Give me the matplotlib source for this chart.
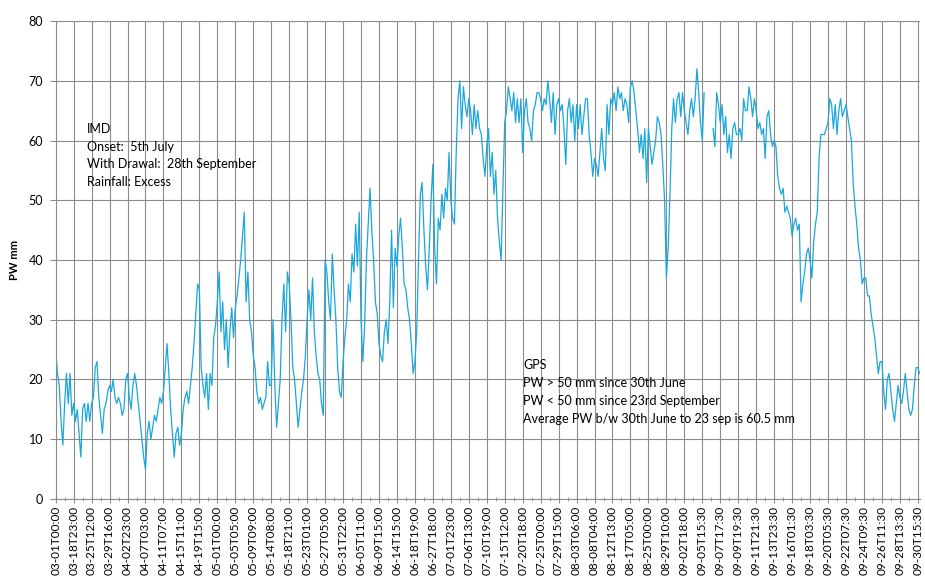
import numpy as np
import matplotlib.pyplot as plt
from matplotlib.ticker import MultipleLocator

plt.rcParams['font.family'] = ['Lato', 'DejaVu Sans']

# category labels, one every 100 samples
tick_labels = [
    '03-01T00:00', '03-18T23:00', '03-25T12:00', '03-29T16:00', '04-02T23:00',
    '04-07T03:00', '04-11T07:00', '04-15T11:00', '04-19T15:00', '05-01T00:00',
    '05-05T05:00', '05-09T09:00', '05-14T08:00', '05-18T21:00', '05-23T01:00',
    '05-27T05:00', '05-31T22:00', '06-05T11:00', '06-09T15:00', '06-14T15:00',
    '06-18T19:00', '06-27T18:00', '07-01T23:00', '07-06T13:00', '07-10T19:00',
    '07-15T12:00', '07-20T18:00', '07-25T00:00', '07-29T15:00', '08-03T06:00',
    '08-08T04:00', '08-12T13:00', '08-17T05:00', '08-25T00:00', '08-29T10:00',
    '09-02T18:00', '09-05T15:30', '09-07T17:30', '09-09T19:30', '09-11T21:30',
    '09-13T23:30', '09-16T01:30', '09-18T03:30', '09-20T05:30', '09-22T07:30',
    '09-24T09:30', '09-26T11:30', '09-28T13:30', '09-30T15:30',
]
samples_per_label = 100
step = 10  # PW every 10 samples

nan = np.nan
# one row per gap between two labels
pw_mm = [
    25, 21, 19, 13, 9, 16, 21, 16, 21, 14,
    16, 13, 15, 11, 7, 15, 16, 13, 16, 13,
    16, 17, 22, 23, 17, 14, 11, 15, 16, 18,
    19, 18, 20, 17, 16, 17, 16, 14, 15, 20,
    21, 17, 15, 19, 21, 19, 16, 13, 10, 7,
    5, 11, 13, 10, 12, 14, 13, 15, 17, 16,
    18, 22, 26, 21, 15, 11, 7, 11, 12, 9,
    11, 15, 17, 18, 16, 19, 22, 26, 31, 36,
    35, 22, 19, 17, 21, 15, 21, 19, 27, 29,
    33, 38, 28, 33, 25, 30, 22, 28, 32, 27,
    32, 34, 37, 40, 44, 48, 33, 38, 30, 28,
    24, 22, 18, 16, 17, 15, 16, 17, 23, 19,
    19, 30, 19, 12, 16, 20, 30, 36, 28, 38,
    36, 30, 22, 20, 16, 12, 15, 18, 20, 24,
    30, 35, 30, 37, 28, 24, 21, 20, 16, 14,
    40, 38, 33, 30, 41, 35, 30, 22, 18, 17,
    23, 27, 30, 36, 33, 41, 38, 46, 39, 48,
    30, 23, 29, 40, 46, 52, 45, 40, 33, 31,
    26, 24, 23, 28, 30, 26, 33, 45, 32, 42,
    39, 44, 47, 42, 36, 35, 32, 30, 26, 21,
    23, 28, 40, 51, 53, 45, 39, 35, 42, 50,
    56, 42, 36, 47, 45, 51, 47, 52, 50, 58,
    50, 47, 46, 58, 67, 70, 62, 69, 66, 64,
    67, 65, 61, 66, 62, 65, 62, 61, 57, 54,
    59, 62, 54, 58, 51, 55, 47, 43, 40, 52,
    63, 65, 69, 67, 65, 68, 63, 67, 63, 67,
    58, 65, 67, 63, 62, 60, 65, 66, 68, 68,
    67, 65, 67, 66, 70, 67, 63, 68, 61, 66,
    67, 65, 66, 62, 56, 65, 67, 63, 66, 60,
    66, 62, 66, 61, 64, 67, 67, 61, 58, 54,
    57, 56, 54, 58, 62, 57, 55, 66, 61, 67,
    66, 68, 65, 69, 67, 68, 65, 67, 66, 63,
    69, 70, 68, 65, 62, 58, 61, 57, 62, 53,
    62, 59, 56, 58, 60, 64, 63, 61, 56, 50,
    37, 42, 51, 62, 67, 63, 67, 68, 64, 68,
    65, 63, 61, 65, 67, 64, 67, 72, 68, 63,
    60, 68, nan, nan, nan, nan, 62, 59, 68, 66,
    63, 66, 61, 64, 58, 61, 57, 62, 63, 61,
    61, 62, 60, 67, 65, 65, 69, 67, 64, 67,
    65, 62, 63, 61, 62, 57, 64, 65, 61, 59,
    60, 59, 54, 52, 51, 52, 48, 49, 48, 47,
    44, 46, 47, 45, 46, 33, 36, 38, 41, 42,
    40, 37, 43, 46, 48, 57, 61, 61, 61, 62,
    63, 67, 66, 62, 66, 61, 65, 67, 64, 65,
    66, 64, 62, 60, 53, 49, 46, 42, 40, 36,
    37, 37, 34, 34, 31, 29, 27, 24, 21, 23,
    23, 18, 15, 20, 21, 18, 15, 13, 16, 19,
    17, 16, 18, 21, 18, 15, 14, 15, 19, 22,
    22, 21,
]

imd_note = ['IMD', 'Onset:  5th July', 'With Drawal:  28th September',
            'Rainfall: Excess']
gps_note = ['GPS', 'PW > 50 mm since 30th June', 'PW < 50 mm since 23rd September',
            'Average PW b/w 30th June to 23 sep is 60.5 mm']

x = np.arange(len(pw_mm)) * step

fig = plt.figure(figsize=(9.25, 5.79), dpi=100)
ax = fig.add_axes([0.0602, 0.1382, 0.934, 0.8255])
ax.plot(x, pw_mm, color='#1aa7dc', lw=0.9)

ax.set_xlim(0, x[-1])
ax.set_ylim(0, 80)
ax.set_xticks(np.arange(len(tick_labels)) * samples_per_label)
ax.set_xticklabels(tick_labels, rotation=90, fontsize=8.5)
ax.xaxis.set_minor_locator(MultipleLocator(samples_per_label / 2))
ax.set_yticks(range(0, 81, 10))
ax.tick_params(axis='y', labelsize=9, length=4, color='#8c8c8c', pad=5)
ax.tick_params(axis='x', which='major', direction='inout', length=6, color='#8c8c8c', pad=2)
ax.tick_params(axis='x', which='minor', direction='inout', length=3, color='#8c8c8c')

ax.grid(color='#8c8c8c', lw=0.8)
ax.set_axisbelow(True)
for s in ('top', 'right'):
    ax.spines[s].set_visible(False)
for s in ('left', 'bottom'):
    ax.spines[s].set_color('#8c8c8c')

ax.set_ylabel('PW mm', fontsize=8, fontweight='bold')
ax.yaxis.set_label_coords(-0.041, 0.5)

for i, line in enumerate(imd_note):
    ax.text(0.0358, 0.774 - i * 0.0366, line, transform=ax.transAxes,
            fontsize=9, va='center')
for i, line in enumerate(gps_note):
    ax.text(0.541, 0.2803 - i * 0.0376, line, transform=ax.transAxes,
            fontsize=9, va='center')

fig.savefig('out.png', dpi=100)
